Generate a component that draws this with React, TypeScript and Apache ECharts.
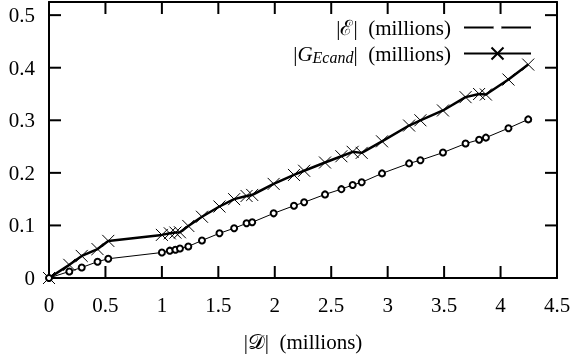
import React, { useEffect, useRef } from "react";
import * as echarts from "echarts";

const dSizes = [0, 0.18, 0.29, 0.43, 0.525, 1.0, 1.07, 1.12, 1.16, 1.234, 1.355, 1.51, 1.64, 1.75, 1.8, 1.99, 2.17, 2.26, 2.445, 2.59, 2.69, 2.77, 2.95, 3.19, 3.29, 3.49, 3.69, 3.81, 3.87, 4.07, 4.245];
const eValues = [0, 0.0125, 0.02, 0.031, 0.0366, 0.0485, 0.052, 0.0536, 0.056, 0.06, 0.0714, 0.085, 0.0947, 0.104, 0.106, 0.123, 0.1375, 0.144, 0.159, 0.169, 0.177, 0.182, 0.199, 0.218, 0.224, 0.2386, 0.2557, 0.263, 0.267, 0.285, 0.3017];
const gValues = [0, 0.025, 0.042, 0.055, 0.0706, 0.082, 0.085, 0.0864, 0.087, 0.099, 0.1165, 0.136, 0.15, 0.156, 0.158, 0.179, 0.196, 0.204, 0.2197, 0.2316, 0.24, 0.238, 0.26, 0.29, 0.3, 0.3187, 0.344, 0.35, 0.349, 0.3775, 0.406];

const xTicks = [0.5, 1, 1.5, 2, 2.5, 3, 3.5, 4];
const yTicks = [0.1, 0.2, 0.3, 0.4, 0.5];
const X_MIN = 0, X_MAX = 4.5, Y_MIN = 0, Y_MAX = 0.525;

const seriesNames = ["|ℰ| (millions)", "|G_Ecand| (millions)"];
const xAxisName = "|𝒟|  (millions)";

const FONT = "Liberation Serif";
const FS = 21;
const TICK = 12;
const CROSS = "path://M0,0L10,10M10,0L0,10";

export default function App() {
  const ref = useRef<HTMLDivElement>(null);
  useEffect(() => {
    if (!ref.current) return;
    const chart = echarts.init(ref.current, undefined, { renderer: "svg" });
    const line = { show: true, onZero: false, lineStyle: { color: "#000", width: 2 } };
    const gridBox = { left: 49, right: 19, top: 2, bottom: 84 };
    const tickStyle = { stroke: "#000", lineWidth: 2 };
    const legendText = {
      fontFamily: FONT, fontSize: FS, color: "#000", padding: [0, 8, 0, 0],
      rich: {
        i: { fontFamily: FONT, fontSize: FS, fontStyle: "italic", color: "#000" },
        s: { fontFamily: FONT, fontSize: 16, fontStyle: "italic", color: "#000", padding: [8, 0, 0, 0] },
      },
    };
    const fmt = (name: string) =>
      name === seriesNames[0] ? "|ℰ|  (millions)" : "|{i|G}{s|Ecand}|  (millions)";
    chart.setOption({
      animation: false,
      grid: [gridBox, gridBox],
      legend: [
        {
          right: 39, top: 12, orient: "vertical", align: "right",
          itemWidth: 67, itemHeight: 7.5, textStyle: legendText, formatter: fmt,
          itemStyle: { color: "#fff", borderColor: "#000", borderWidth: 1 },
          data: [seriesNames[0]],
        },
        {
          right: 39, top: 38, orient: "vertical", align: "right",
          itemWidth: 67, itemHeight: 15, textStyle: legendText, formatter: fmt,
          data: [seriesNames[1]],
        },
      ],
      xAxis: [
        {
          type: "value", gridIndex: 0, min: X_MIN, max: X_MAX, interval: 0.5,
          axisTick: { show: false }, axisLine: line, splitLine: { show: false },
          axisLabel: { color: "#000", fontSize: FS, fontFamily: FONT, margin: 16 },
          name: xAxisName, nameLocation: "middle", nameGap: 53,
          nameTextStyle: { color: "#000", fontSize: FS, fontFamily: FONT },
        },
        {
          type: "value", gridIndex: 1, min: X_MIN, max: X_MAX, interval: 0.5, position: "top",
          axisTick: { show: false }, axisLine: line, splitLine: { show: false }, axisLabel: { show: false },
        },
      ],
      yAxis: [
        {
          type: "value", gridIndex: 0, min: Y_MIN, max: Y_MAX, interval: 0.1,
          axisTick: { show: false }, axisLine: line, splitLine: { show: false },
          axisLabel: { color: "#000", fontSize: FS, fontFamily: FONT, margin: 14, showMaxLabel: false },
        },
        {
          type: "value", gridIndex: 1, min: Y_MIN, max: Y_MAX, interval: 0.1, position: "right",
          axisTick: { show: false }, axisLine: line, splitLine: { show: false }, axisLabel: { show: false },
        },
      ],
      series: [
        {
          name: seriesNames[1], type: "line", xAxisIndex: 0, yAxisIndex: 0,
          data: dSizes.map((d, i) => [d, gValues[i]]),
          symbol: CROSS, symbolSize: 12, showAllSymbol: true,
          lineStyle: { color: "#000", width: 2.5 },
          itemStyle: { color: "#000", borderColor: "#000", borderWidth: 1 },
        },
        {
          name: seriesNames[0], type: "line", xAxisIndex: 0, yAxisIndex: 0,
          data: dSizes.map((d, i) => [d, eValues[i]]),
          symbol: "emptyCircle", symbolSize: 6, showAllSymbol: true,
          lineStyle: { color: "#000", width: 1 },
          itemStyle: { color: "#000", borderColor: "#000", borderWidth: 1 },
        },
      ],
    });

    const px = (v: number[]) => chart.convertToPixel({ gridIndex: 0 }, v) as number[];
    const tickEls: any[] = [];
    xTicks.forEach((v) => {
      const b = px([v, Y_MIN]);
      const t = px([v, Y_MAX]);
      tickEls.push({ type: "line", z: 100, silent: true, shape: { x1: b[0], y1: b[1], x2: b[0], y2: b[1] - TICK }, style: tickStyle });
      tickEls.push({ type: "line", z: 100, silent: true, shape: { x1: t[0], y1: t[1], x2: t[0], y2: t[1] + TICK }, style: tickStyle });
    });
    yTicks.forEach((v) => {
      const l = px([X_MIN, v]);
      const r = px([X_MAX, v]);
      tickEls.push({ type: "line", z: 100, silent: true, shape: { x1: l[0], y1: l[1], x2: l[0] + TICK, y2: l[1] }, style: tickStyle });
      tickEls.push({ type: "line", z: 100, silent: true, shape: { x1: r[0], y1: r[1], x2: r[0] - TICK, y2: r[1] }, style: tickStyle });
    });
    chart.setOption({ graphic: tickEls });

    return () => chart.dispose();
  }, []);
  return <div ref={ref} style={{ position: "fixed", left: 0, top: 0, width: 576, height: 362 }} />;
}
